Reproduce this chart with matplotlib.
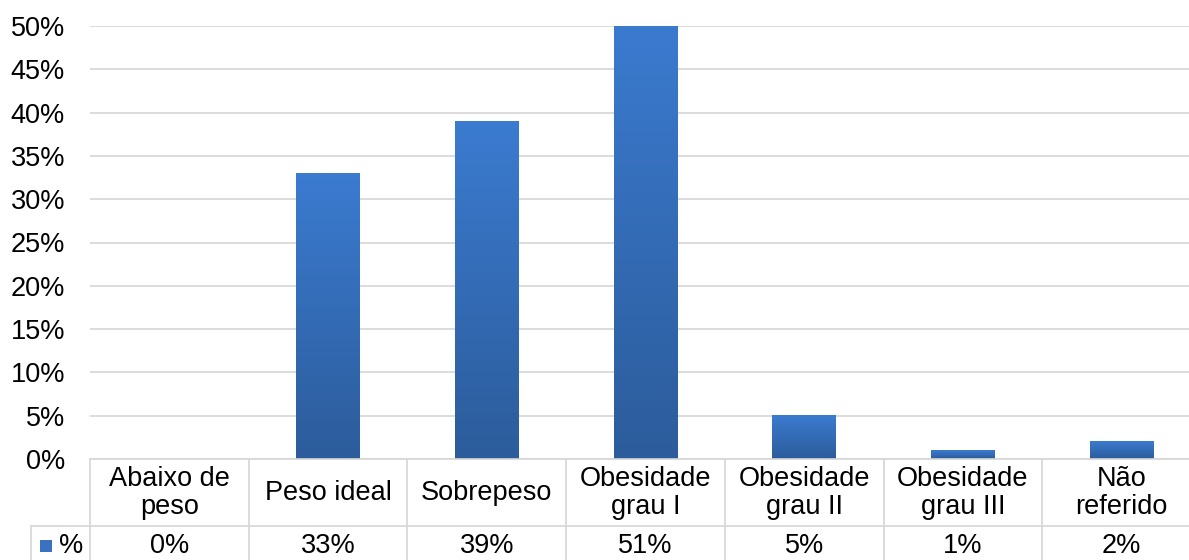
import numpy as np
import matplotlib.pyplot as plt
from matplotlib.colors import LinearSegmentedColormap
from matplotlib.transforms import blended_transform_factory
from matplotlib.patches import Rectangle

plt.rcParams['font.family'] = ['Liberation Sans', 'DejaVu Sans']

# ------------------------
# data
# ------------------------
categories = ["Abaixo de\npeso", "Peso ideal", "Sobrepeso", "Obesidade\ngrau I",
              "Obesidade\ngrau II", "Obesidade\ngrau III", "Não\nreferido"]
values = [0, 33, 39, 51, 5, 1, 2]
yticks = [0, 5, 10, 15, 20, 25, 30, 35, 40, 45, 50]
series_name = "%"

W, H = 1189, 560
FS = 19.5
GRID = "#d6d6d6"
TOP_C = "#3b7bd0"
BOT_C = "#2c5c9b"

fig = plt.figure(figsize=(W / 100, H / 100), dpi=100)
# plot area runs slightly past the right edge of the figure
ax = fig.add_axes([90 / W, (H - 459) / H, 1111 / W, 433 / H])

x = np.arange(len(categories))
bars = ax.bar(x, values, width=0.4, color="none", zorder=2)

# vertical gradient inside each bar (light on top, darker at the base)
cmap = LinearSegmentedColormap.from_list("bar", [BOT_C, TOP_C])
grad = np.linspace(0, 1, 256).reshape(-1, 1)
for b in bars:
    h = b.get_height()
    if h <= 0:
        continue
    x0 = b.get_x()
    ax.imshow(grad, extent=[x0, x0 + b.get_width(), 0, h], origin="lower",
              aspect="auto", cmap=cmap, zorder=2, interpolation="bilinear")

ax.set_xlim(-0.5, len(categories) - 0.5)
ax.set_ylim(0, 50)
ax.set_yticks(yticks)
ax.set_yticklabels([f"{v}%" for v in yticks], fontsize=FS)
ax.tick_params(axis="y", length=0, pad=18)
ax.set_xticks([])
ax.grid(axis="y", color=GRID, linewidth=1.2, zorder=0)
ax.set_axisbelow(True)
for s in ax.spines.values():
    s.set_visible(False)

# ------------------------
# data table under the chart
# ------------------------
tr = blended_transform_factory(ax.transData, ax.transAxes)
px = 1 / 433  # one pixel in axes units (vertical)
col_px = 1111 / len(categories)  # one category column in pixels
row1 = -(526 - 459) * px
row2 = -(600 - 459) * px
leg_x = -0.5 - (90 - 31) / col_px

line_kw = dict(color=GRID, linewidth=1.2, transform=tr, clip_on=False)
ax.plot([-0.5, len(categories) - 0.5], [0, 0], **line_kw)
ax.plot([leg_x, len(categories) - 0.5], [row1, row1], **line_kw)
for i in range(len(categories) + 1):
    ax.plot([i - 0.5, i - 0.5], [0, row2], **line_kw)
ax.plot([leg_x, leg_x], [row1, row2], **line_kw)

ymid = -(546 - 459) * px
for i, (c, v) in enumerate(zip(categories, values)):
    ax.text(i, -(493 - 459) * px, c, transform=tr, ha="center", va="center",
            fontsize=FS, linespacing=1.12, clip_on=False)
    ax.text(i, ymid, f"{v}%", transform=tr,
            ha="center", va="center", fontsize=FS, clip_on=False)

# legend key in the table row
kx = leg_x + 9 / col_px
kw = 12 / col_px
ax.add_patch(Rectangle((kx, ymid - 6 * px), kw, 12 * px, transform=tr,
                       facecolor="#3a72c0", edgecolor="none", clip_on=False))
ax.text(kx + kw + 7 / col_px, ymid, series_name, transform=tr,
        ha="left", va="center", fontsize=FS, clip_on=False)

fig.savefig("out.png", dpi=100)
